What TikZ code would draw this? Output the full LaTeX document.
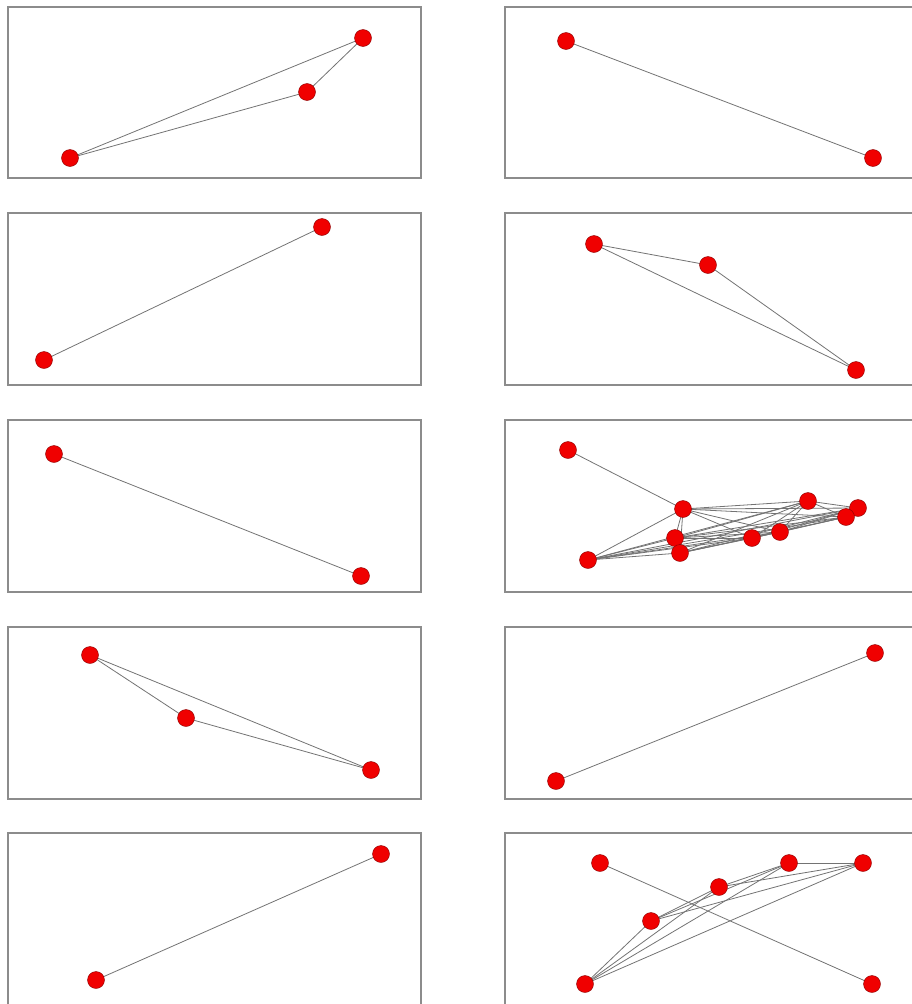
\documentclass[tikz,border=0pt]{standalone}
\usepackage{xcolor}
\usepackage{tikz}

\definecolor{vred}{RGB}{240,0,0}

\begin{document}
\begin{tikzpicture}[
  x=1pt, y=-1pt,
  panel/.style={draw=black!45, line width=1.2pt},
  vtx/.style={circle, fill=vred, draw=red!55!black, line width=0.4pt,
    minimum size=17pt, inner sep=0pt},
  edge/.style={draw=black!55, line width=0.8pt}
]
  \useasboundingbox (0,0) rectangle (912,1004);
  \clip (0,0) rectangle (912,1004);

  % frames
  \foreach \t/\b in {7/178, 213/385, 420/592, 627/799, 833/1012} {
    \draw[panel] (8,\t) rectangle (421,\b);
    \draw[panel] (505,\t) rectangle (930,\b);
  }

  % vertex positions
  \foreach \n/\x/\y in {a1/363/38, a2/307/92, a3/70/158,
                        b1/566/41, b2/873/158,
                        c1/322/227, c2/44/360,
                        d1/594/244, d2/708/265, d3/856/370,
                        e1/54/454, e2/361/576,
                        f1/568/450, f2/683/509, f3/808/501, f4/858/508,
                        f5/846/517, f6/780/532, f7/752/538, f8/675/538,
                        f9/680/553, f10/588/560,
                        g1/90/655, g2/186/718, g3/371/770,
                        h1/875/653, h2/556/781,
                        i1/381/854, i2/96/980,
                        j1/600/863, j2/789/863, j3/863/863, j4/719/887,
                        j5/651/921, j6/585/984, j7/872/984}
    \coordinate (\n) at (\x,\y);

  % links
  \draw[edge] (a3) -- (a1);
  \draw[edge] (a3) -- (a2);
  \draw[edge] (a2) -- (a1);
  \draw[edge] (b1) -- (b2);
  \draw[edge] (c1) -- (c2);
  \draw[edge] (d1) -- (d2);
  \draw[edge] (d2) -- (d3);
  \draw[edge] (d1) -- (d3);
  \draw[edge] (e1) -- (e2);
  \draw[edge] (f1) -- (f2);
  \foreach \i [evaluate=\i as \k using int(\i+1)] in {2,...,9}
    \foreach \j in {\k,...,10}
      \draw[edge] (f\i) -- (f\j);
  \draw[edge] (g1) -- (g2);
  \draw[edge] (g2) -- (g3);
  \draw[edge] (g1) -- (g3);
  \draw[edge] (h1) -- (h2);
  \draw[edge] (i1) -- (i2);
  \draw[edge] (j1) -- (j7);
  \foreach \i [evaluate=\i as \k using int(\i+1)] in {2,...,5}
    \foreach \j in {\k,...,6}
      \draw[edge] (j\i) -- (j\j);

  % vertices
  \foreach \n in {a1,a2,a3,b1,b2,c1,c2,d1,d2,d3,e1,e2,
                  f1,f2,f3,f4,f5,f6,f7,f8,f9,f10,
                  g1,g2,g3,h1,h2,i1,i2,j1,j2,j3,j4,j5,j6,j7}
    \node[vtx] (v\n) at (\n) {};
\end{tikzpicture}
\end{document}
